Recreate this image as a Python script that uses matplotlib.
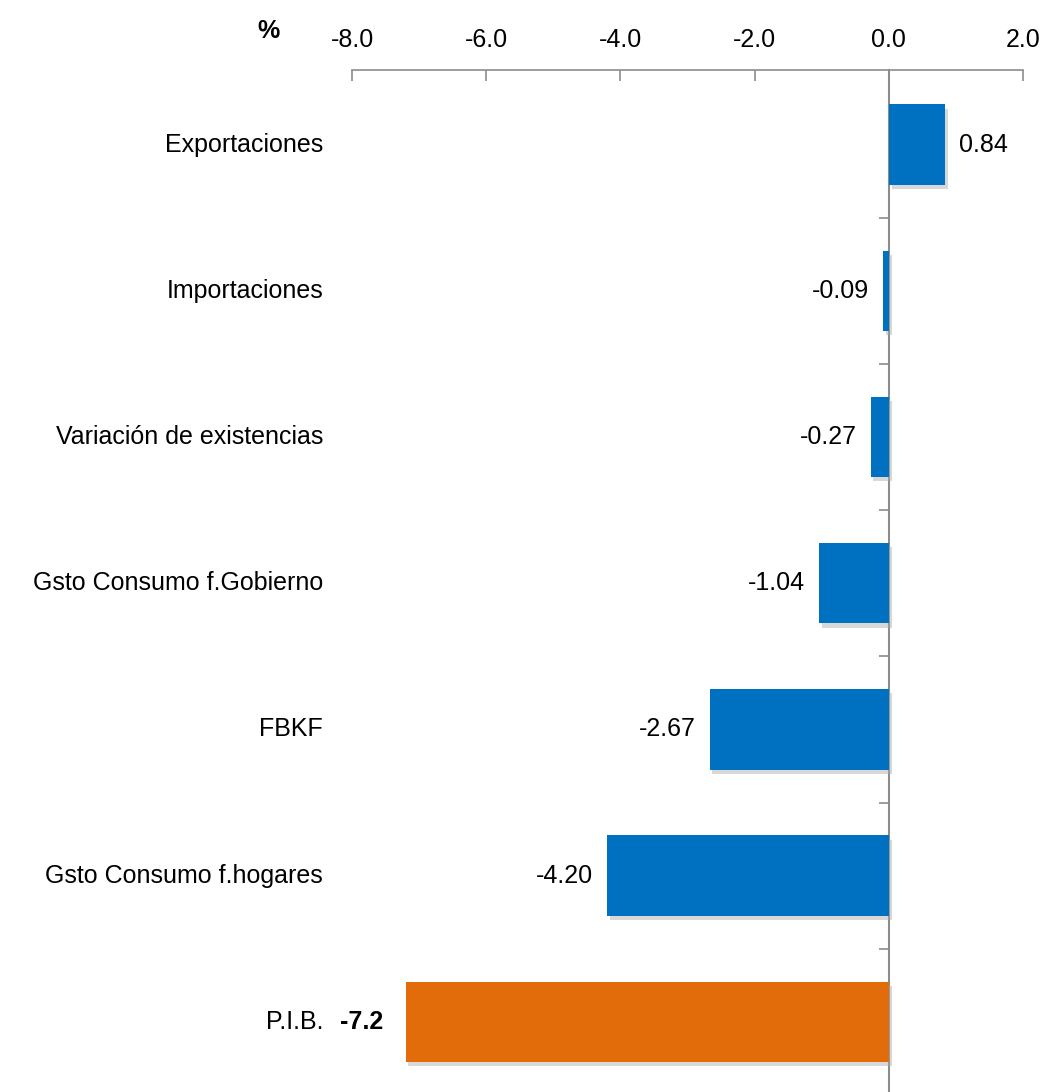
import matplotlib
matplotlib.use("Agg")
import matplotlib.pyplot as plt
import matplotlib.patheffects as pe
from matplotlib.transforms import blended_transform_factory

plt.rcParams['font.family'] = ['Liberation Sans Narrow', 'Liberation Sans', 'DejaVu Sans']

categories = ["Exportaciones", "Importaciones", "Variación de existencias",
              "Gsto Consumo f.Gobierno", "FBKF", "Gsto Consumo f.hogares", "P.I.B."]
values = [0.84, -0.09, -0.27, -1.04, -2.67, -4.20, -7.2]
value_labels = ["0.84", "-0.09", "-0.27", "-1.04", "-2.67", "-4.20", "-7.2"]
colors = ["#0070C0"] * 6 + ["#E36C0A"]
xticks = [-8, -6, -4, -2, 0, 2]

fig = plt.figure(figsize=(10.47, 10.92), dpi=100)
ax = fig.add_axes([352 / 1047, 0.0, 671 / 1047, 1 - 70 / 1092])

ypos = list(range(len(categories)))
shadow = [pe.SimplePatchShadow(offset=(2, -3), shadow_rgbFace="#aaaaaa", alpha=0.45), pe.Normal()]
bars = ax.barh(ypos, values, height=0.55, color=colors, zorder=3)
for b in bars:
    b.set_path_effects(shadow)

ax.set_xlim(-8, 2)
ax.set_ylim(6.48, -0.51)

# value labels
for i, v in enumerate(values):
    if i == len(values) - 1:
        continue
    if v >= 0:
        ax.annotate(value_labels[i], (v, i), xytext=(10, 0), textcoords="offset points",
                    ha="left", va="center", fontsize=18)
    else:
        ax.annotate(value_labels[i], (v, i), xytext=(-10, 0), textcoords="offset points",
                    ha="right", va="center", fontsize=18)

# category labels on the left
trans = blended_transform_factory(ax.transAxes, ax.transData)
for i, c in enumerate(categories):
    if c == "P.I.B.":
        ax.text(-0.042, i, c, transform=trans, ha="right", va="center", fontsize=18)
        ax.text(-0.018, i, value_labels[i], transform=trans, ha="left", va="center",
                fontsize=18, fontweight="bold")
    else:
        ax.text(-0.043, i, c, transform=trans, ha="right", va="center", fontsize=18)

# x axis on top
ax.xaxis.tick_top()
ax.set_xticks(xticks)
ax.set_xticklabels(["%.1f" % t for t in xticks], fontsize=18)
ax.tick_params(axis="x", direction="in", length=8, width=1.2, color="#8c8c8c", pad=13)
ax.annotate("%", (-0.125, 1.0), xycoords="axes fraction", xytext=(0, 28),
            textcoords="offset points", ha="center", va="center",
            fontsize=18, fontweight="bold")

# vertical axis at zero with ticks between categories
for s in ["right", "bottom"]:
    ax.spines[s].set_visible(False)
ax.spines["top"].set_color("#8c8c8c")
ax.spines["top"].set_linewidth(1.2)
ax.spines["left"].set_position(("data", 0))
ax.spines["left"].set_color("#8c8c8c")
ax.spines["left"].set_linewidth(1.5)
ax.set_yticks([i + 0.5 for i in range(len(categories) - 1)])
ax.set_yticklabels([])
ax.tick_params(axis="y", direction="out", length=7, width=1.2, color="#8c8c8c")

fig.savefig("out.png", dpi=100)
